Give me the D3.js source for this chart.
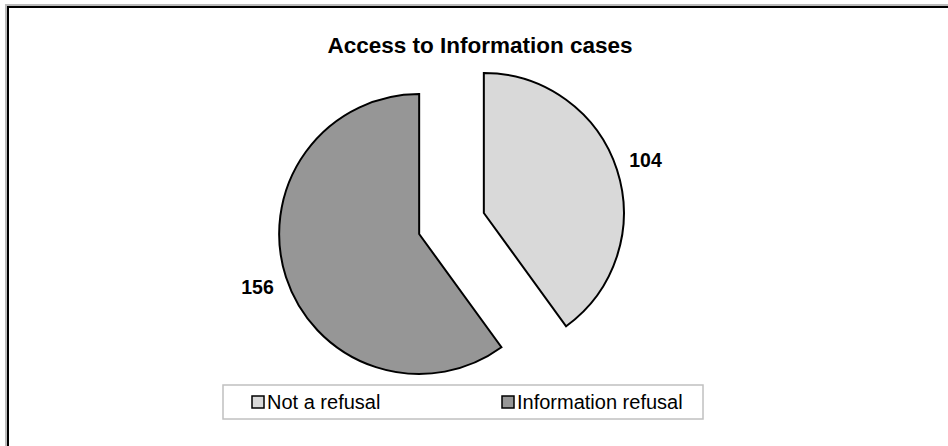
<!DOCTYPE html>
<html>
<head>
<meta charset="utf-8">
<script src="https://cdn.jsdelivr.net/npm/d3@7"></script>
<style>
  body { margin: 0; background: #fff; }
  svg { display: block; font-family: "Liberation Sans", Arial, sans-serif; }
</style>
</head>
<body>
<svg id="chart" width="948" height="446"></svg>
<script>
var categories = ["Not a refusal", "Information refusal"];
var values = [104, 156];
var colors = ["#d9d9d9", "#969696"];

var svg = d3.select("#chart"),
    radius = 140,
    explode = 34,
    cx = 451.5,
    cy = 223.5;

// outer frame (runs off the right/bottom edge like the source)
svg.append("rect")
    .attr("x", 6).attr("y", 5)
    .attr("width", 960).attr("height", 460)
    .attr("fill", "none").attr("stroke", "#bbb").attr("stroke-width", 2);
svg.append("rect")
    .attr("x", 8).attr("y", 7)
    .attr("width", 960).attr("height", 460)
    .attr("fill", "none").attr("stroke", "#000").attr("stroke-width", 2);

svg.append("text")
    .attr("x", 480).attr("y", 53)
    .attr("text-anchor", "middle")
    .style("font-size", "22.5px").style("font-weight", "bold")
    .text("Access to Information cases");

var pie = d3.pie().sort(null).value(function(d) { return d; });
var arc = d3.arc().innerRadius(0).outerRadius(radius);
var arcs = pie(values);

var g = svg.append("g").attr("transform", "translate(" + cx + "," + cy + ")");

var slice = g.selectAll("g.slice")
  .data(arcs)
  .enter().append("g")
    .attr("class", "slice")
    .attr("transform", function(d) {
      var a = (d.startAngle + d.endAngle) / 2;
      return "translate(" + (Math.sin(a) * explode) + "," + (-Math.cos(a) * explode) + ")";
    });

slice.append("path")
    .attr("d", arc)
    .attr("fill", function(d, i) { return colors[i]; })
    .attr("stroke", "#000")
    .attr("stroke-width", 2)
    .attr("stroke-linejoin", "miter");

var labelR = radius + 30;
slice.append("text")
    .attr("x", function(d) {
      var a = (d.startAngle + d.endAngle) / 2;
      return Math.sin(a) * labelR;
    })
    .attr("y", function(d) {
      var a = (d.startAngle + d.endAngle) / 2;
      return -Math.cos(a) * labelR + 7;
    })
    .attr("text-anchor", "middle")
    .style("font-size", "19.5px").style("font-weight", "bold")
    .text(function(d) { return d.data; });

// legend
var legend = svg.append("g");
legend.append("rect")
    .attr("x", 223).attr("y", 385)
    .attr("width", 480).attr("height", 34)
    .attr("fill", "#fff").attr("stroke", "#c0c0c0").attr("stroke-width", 1.5);

var legX = [252, 502];
var item = legend.selectAll("g.item")
  .data(categories)
  .enter().append("g")
    .attr("class", "item")
    .attr("transform", function(d, i) { return "translate(" + legX[i] + ",396)"; });

item.append("rect")
    .attr("width", 12).attr("height", 12)
    .attr("fill", function(d, i) { return colors[i]; })
    .attr("stroke", "#000").attr("stroke-width", 1.5);

item.append("text")
    .attr("x", 15).attr("y", 13)
    .style("font-size", "20px")
    .text(function(d) { return d; });
</script>
</body>
</html>
